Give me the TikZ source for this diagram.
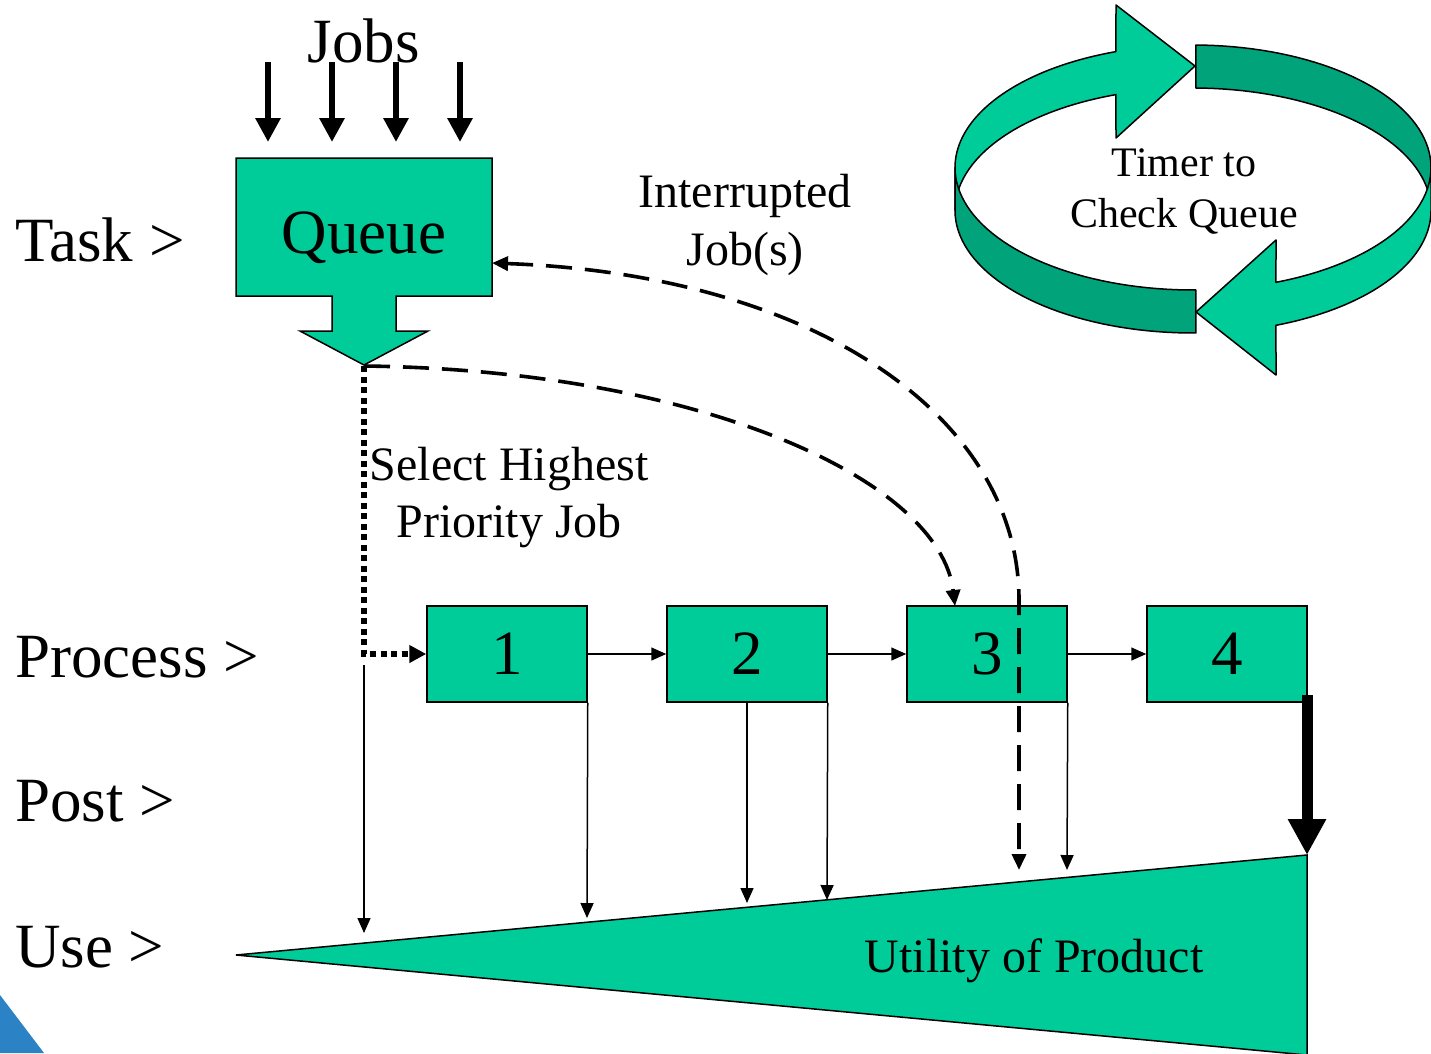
\documentclass[tikz,border=0pt]{standalone}
\usepackage{fontspec}
\setmainfont{Liberation Serif}
\usetikzlibrary{arrows.meta}
\definecolor{lightg}{HTML}{00CC99}
\definecolor{darkg}{HTML}{00A37A}
\definecolor{cornerblue}{HTML}{2B83C6}
\tikzset{
  shapeline/.style={draw=black, line width=1.5pt, fill=lightg},
  pbox/.style={shapeline, rectangle, inner sep=0pt, minimum width=160pt, minimum height=96pt, font=\fontsize{63}{75}\selectfont},
  biglabel/.style={font=\fontsize{63}{75}\selectfont, inner sep=0pt, anchor=base west},
  midlabel/.style={font=\fontsize{48}{58}\selectfont, inner sep=0pt, anchor=base},
  smalllabel/.style={font=\fontsize{42}{50}\selectfont, inner sep=0pt, anchor=base},
  thinarrow/.style={line width=1.5pt, -{Triangle[length=15pt,width=13pt]}},
  jobarrow/.style={line width=6.5pt, -{Triangle[length=24pt,width=24pt]}},
  fatarrow/.style={line width=11pt, -{Triangle[length=36pt,width=36pt]}},
  dashedlink/.style={line width=3.6pt, dash pattern=on 26pt off 13pt},
  dottedlink/.style={line width=5.5pt, dash pattern=on 6pt off 4.5pt},
  ringpart/.style={draw=black, line width=1.5pt, line join=round},
}
\begin{document}
\begin{tikzpicture}[x=1pt,y=-1pt]
\useasboundingbox (0,0) rectangle (1431,1053);
\clip (0,0) rectangle (1431,1053);

% corner decoration
\fill[cornerblue] (0,995) -- (44,1053) -- (0,1053) -- cycle;

% row labels
\node[biglabel] (task) at (15,261) {Task >};
\node[biglabel] (process) at (15,677) {Process >};
\node[biglabel] (post) at (15,821) {Post >};
\node[biglabel] (use) at (15,967) {Use >};

% Jobs
\node[biglabel, anchor=base] (jobs) at (364,62) {Jobs};
\foreach \x [count=\i] in {268,332,396,460} {
  \coordinate (js\i) at (\x,62);
  \coordinate (je\i) at (\x,142);
  \draw[jobarrow] (js\i) -- (je\i);
}

% Queue (down-arrow callout)
\draw[shapeline] (236,158) -- (492,158) -- (492,296) -- (396,296) -- (396,331) -- (428,331)
  -- (364,365) -- (300,331) -- (332,331) -- (332,296) -- (236,296) -- cycle;
\node[inner sep=0pt, minimum width=256pt, minimum height=138pt] (queue) at (364,227) {};
\node[biglabel, anchor=base] (qtext) at (364,253) {Queue};
\coordinate (qtip) at (364,366);
\coordinate (qright) at (492,263);

% process boxes
\node[pbox] (b1) at (507,654) {1};
\node[pbox] (b2) at (747,654) {2};
\node[pbox] (b3) at (987,654) {3};
\node[pbox] (b4) at (1227,654) {4};
\draw[thinarrow] (b1) -- (b2);
\draw[thinarrow] (b2) -- (b3);
\draw[thinarrow] (b3) -- (b4);

% utility triangle
\coordinate (tl) at (236,955);
\coordinate (tr) at (1307,855);
\coordinate (brc) at (1307,1055);
\draw[shapeline, line join=miter] (tl) -- (tr) -- (brc) -- cycle;
\node[midlabel] (util) at (1034,972) {Utility of Product};

% selection path (dotted)
\coordinate (dcorner) at (364,654);
\draw[dottedlink, -{Triangle[length=17pt,width=17pt]}] (qtip) -- (dcorner) -- (b1.west);

% use arrows
\coordinate (u0s) at (364,665);
\coordinate (u0e) at (364,933);
\draw[thinarrow] (u0s) -- (u0e);
\coordinate (u1e) at (587,918);
\draw[thinarrow] (b1.south east) -- (u1e);
\coordinate (u2e) at (747,903);
\draw[thinarrow] (b2.south) -- (u2e);
\coordinate (u3e) at (827,900);
\draw[thinarrow] (b2.south east) -- (u3e);
\coordinate (u4e) at (1067,870);
\draw[thinarrow] (b3.south east) -- (u4e);
\coordinate (u5s) at (1307,695);
\draw[fatarrow] (u5s) -- (tr);

% dashed links
\coordinate (b3in) at (955,606);
\draw[dashedlink, -{Triangle[length=16pt,width=14pt]}] (qtip) .. controls (700,370) and (940,480) .. (b3in);
\coordinate (intbend) at (1019,600);
\coordinate (intend) at (1019,870);
\draw[dashedlink, {Triangle[length=16pt,width=14pt]}-{Triangle[length=16pt,width=14pt]}]
  (qright) .. controls (820,275) and (1019,420) .. (intbend) -- (intend);

\node[midlabel] (int1) at (745,207) {Interrupted};
\node[midlabel] (int2) at (745,265) {Job(s)};
\node[midlabel] (sel1) at (509,480) {Select Highest};
\node[midlabel] (sel2) at (509,537) {Priority Job};

% timer ring
\def\cx{1193}\def\cy{167.5}\def\rx{238}\def\ry{122.5}\def\hh{43}
% back left (light) with arrowhead
\draw[ringpart, fill=lightg]
  plot[domain=180:108.9, samples=40] ({\cx+\rx*cos(\x)}, {\cy-\ry*sin(\x)})
  -- (1116,5) -- (1195,66) -- (1116,138)
  -- plot[domain=108.9:180, samples=40] ({\cx+\rx*cos(\x)}, {\cy+\hh-\ry*sin(\x)}) -- cycle;
% back right (dark)
\draw[ringpart, fill=darkg]
  plot[domain=89.3:0, samples=40] ({\cx+\rx*cos(\x)}, {\cy-\ry*sin(\x)})
  -- plot[domain=0:89.3, samples=40] ({\cx+\rx*cos(\x)}, {\cy+\hh-\ry*sin(\x)}) -- cycle;
% front left (dark)
\draw[ringpart, fill=darkg]
  plot[domain=180:270.7, samples=40] ({\cx+\rx*cos(\x)}, {\cy-\ry*sin(\x)})
  -- plot[domain=270.7:180, samples=40] ({\cx+\rx*cos(\x)}, {\cy+\hh-\ry*sin(\x)}) -- cycle;
% front right (light) with arrowhead
\draw[ringpart, fill=lightg]
  plot[domain=360:290.4, samples=40] ({\cx+\rx*cos(\x)}, {\cy-\ry*sin(\x)})
  -- (1276,240) -- (1196,312) -- (1276,375)
  -- plot[domain=290.4:360, samples=40] ({\cx+\rx*cos(\x)}, {\cy+\hh-\ry*sin(\x)}) -- cycle;
\node[smalllabel] (timer1) at (1184,176) {Timer to};
\node[smalllabel] (timer2) at (1184,227) {Check Queue};
\end{tikzpicture}
\end{document}
